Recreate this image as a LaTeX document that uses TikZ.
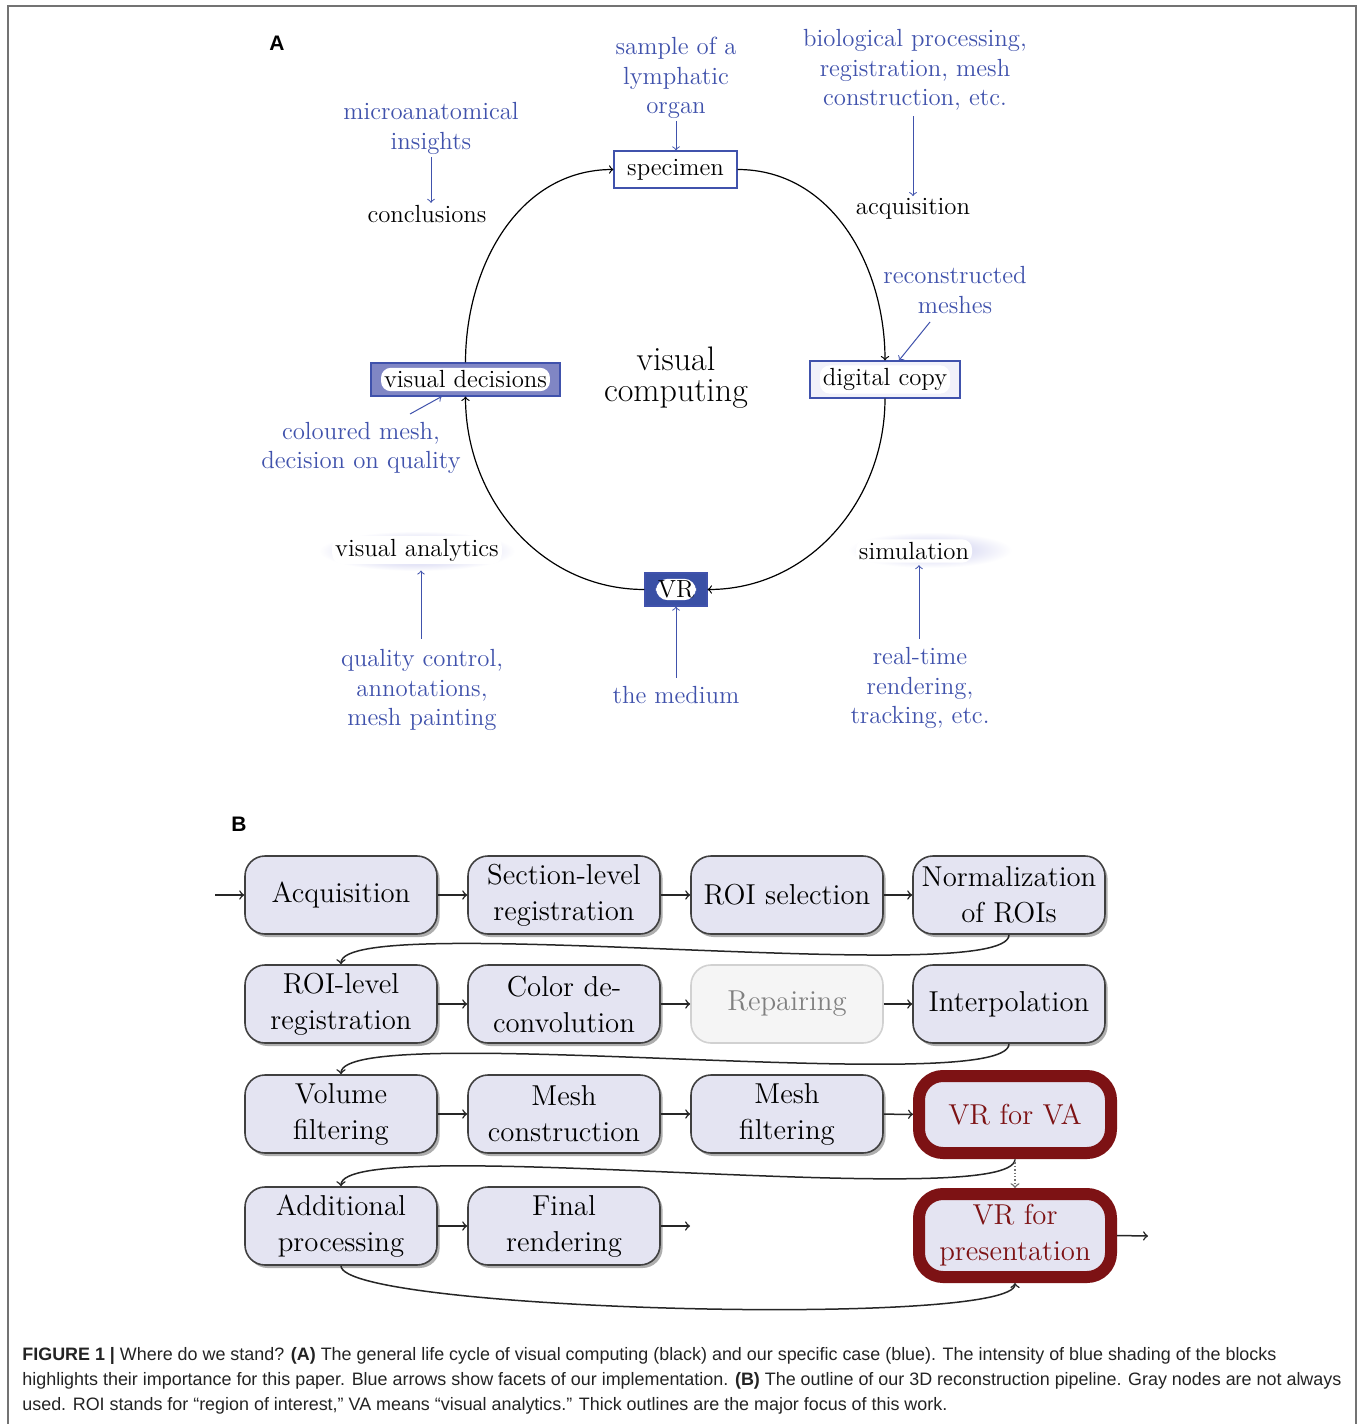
\documentclass[tikz,border=0pt]{standalone}
\usepackage{fontspec}
\usepackage{graphicx}
\newfontfamily\capfont{Liberation Sans}
\usetikzlibrary{shadows,calc}
\definecolor{bl}{RGB}{64,82,172}
\definecolor{vdfill}{RGB}{128,134,196}
\definecolor{vrfill}{RGB}{58,80,165}
\definecolor{digfill}{RGB}{241,241,250}
\definecolor{boxfill}{RGB}{228,228,242}
\definecolor{dred}{RGB}{125,18,20}
\definecolor{glow}{RGB}{170,172,228}
\definecolor{capcol}{RGB}{35,35,35}
\begin{document}
\begin{tikzpicture}[x=0.5pt,y=-0.5pt,
  lbl/.style={text=bl, align=center, font=\fontsize{12.4}{14.8}\selectfont, inner sep=1pt},
  blk/.style={align=center, font=\fontsize{12.4}{14.8}\selectfont, inner sep=1pt},
  barrow/.style={->, draw=bl, line width=0.5pt},
  cyc/.style={->, line width=0.6pt},
  abox/.style={draw=bl, line width=0.6pt, inner sep=0pt},
  cloud/.style={fill=white, rounded corners=5pt, inner sep=1.5pt, font=\fontsize{12.4}{14.8}\selectfont},
  pbox/.style={draw=black!75, line width=0.8pt, fill=boxfill, rounded corners=10pt,
     minimum width=96pt, minimum height=39pt, align=center, inner sep=2pt,
     font=\fontsize{14.4}{18}\selectfont,
     drop shadow={shadow xshift=1.3pt, shadow yshift=-1.5pt, opacity=0.45, fill=black!70}},
  graybox/.style={draw=black!18, line width=0.8pt, fill=black!4, rounded corners=10pt,
     minimum width=96pt, minimum height=39pt, align=center, inner sep=2pt, text=black!50,
     font=\fontsize{14.4}{18}\selectfont},
  redbox/.style={draw=dred, line width=6pt, fill=boxfill, rounded corners=12pt,
     minimum width=96pt, align=center, inner sep=2pt, text=dred,
     font=\fontsize{14.4}{18}\selectfont},
  parr/.style={->, line width=0.75pt, draw=black!85},
  capt/.style={anchor=base west, inner sep=0pt, text=capcol, font=\capfont\fontsize{9}{11}\selectfont},
  panel/.style={font=\capfont\bfseries\fontsize{10.5}{12}\selectfont, inner sep=0pt}
]
\useasboundingbox (0,0) rectangle (1360,1424);
\fill[white] (0,0) rectangle (1360,1424);
\draw[black!55, line width=0.6pt] (8,1424) -- (8,6) -- (1356,6) -- (1356,1424);

% ---------------- Panel A ----------------
\node[panel] (labA) at (277,43) {A};

% glows
\shade[inner color=glow, outer color=white] (417,551) ellipse [x radius=98, y radius=20];
\shade[inner color=glow!70!white, outer color=white] (930,550) ellipse [x radius=82, y radius=18];

% cycle nodes
\node[abox, fill=white, minimum width=61.5pt, minimum height=18.5pt, font=\fontsize{12.4}{14.8}\selectfont] (spec) at (675.5,169.5) {specimen};
\node[abox, fill=digfill, minimum width=75pt, minimum height=18.5pt] (dig) at (885,379.5) {};
\node[cloud] (digt) at (dig.center) {digital copy};
\node[abox, fill=vdfill, minimum width=94.5pt, minimum height=16.5pt] (vd) at (465.5,379.5) {};
\node[cloud] (vdt) at (vd.center) {visual decisions};
\node[abox, fill=vrfill, minimum width=31pt, minimum height=16.5pt] (vr) at (676,589.5) {};
\node[cloud, rounded corners=6pt, inner sep=1pt] (vrt) at (vr.center) {VR};

\node[align=center, font=\fontsize{17}{15.5}\selectfont, inner sep=0pt] (vc) at (676,378) {visual\\computing};

% cycle arcs
\draw[cyc] (spec.east) to[out=0,in=90] (dig.north);
\draw[cyc] (dig.south) to[out=-90,in=0] (vr.east);
\draw[cyc] (vr.west) to[out=180,in=-90] (vd.south);
\draw[cyc] (vd.north) to[out=90,in=180] (spec.west);

% black side nodes
\node[blk] (concl) at (427,214) {conclusions};
\node[blk] (acqt) at (913,209) {acquisition};
\node[cloud] (va) at (417,550) {visual analytics};
\node[cloud] (sim) at (914,551) {simulation};

% blue labels
\node[lbl] (samp) at (676,78) {sample of a\\lymphatic\\organ};
\node[lbl] (bio) at (915,70) {biological processing,\\registration, mesh\\construction, etc.};
\node[lbl] (micro) at (431,128.5) {microanatomical\\insights};
\node[lbl] (recon) at (955,290) {reconstructed\\meshes};
\node[lbl] (colm) at (361,448) {coloured mesh,\\decision on quality};
\node[lbl] (qc) at (422,690) {quality control,\\annotations,\\mesh painting};
\node[lbl] (med) at (676,695) {the medium};
\node[lbl] (rt) at (920,688) {real-time\\rendering,\\tracking, etc.};

\coordinate (recA) at (930,322);
\coordinate (colA) at (410,414);

\draw[barrow] (samp.south) -- (samp.south |- spec.north);
\draw[barrow] (bio.south) ++(-2,3) -- (acqt.north);
\draw[barrow] (micro.south) -- (micro.south |- concl.north);
\draw[barrow] (recA) -- ($(dig.north)+(14,0)$);
\draw[barrow] (colA) -- ($(vd.south)+(-24,0)$);
\draw[barrow] (qc.north) ++(-1,-8) -- ($(va.south)+(4,6)$);
\draw[barrow] (med.north) ++(0,-6) -- (vr.south);
\draw[barrow] (rt.north) ++(-1,-6) -- ($(sim.south)+(5,2)$);

% ---------------- Panel B ----------------
\node[panel] (labB) at (239,824) {B};

\node[pbox] (acq) at (341,895) {Acquisition};
\node[pbox] (sec) at (564,895) {Section-level\\registration};
\node[pbox] (roisel) at (787,895) {ROI selection};
\node[pbox] (norm) at (1009,895) {Normalization\\of ROIs};

\node[pbox] (roil) at (341,1004) {ROI-level\\registration};
\node[pbox] (color) at (564,1004) {Color de-\\convolution};
\node[graybox] (rep) at (787,1004) {Repairing};
\node[pbox] (interp) at (1009,1004) {Interpolation};

\node[pbox] (volf) at (341,1114) {Volume\\filtering};
\node[pbox] (meshc) at (564,1114) {Mesh\\construction};
\node[pbox] (meshf) at (787,1114) {Mesh\\filtering};
\node[redbox, minimum height=38.5pt] (vrva) at (1015,1114.5) {VR for VA};

\node[pbox] (addp) at (341,1226) {Additional\\processing};
\node[pbox] (finr) at (564,1226) {Final\\rendering};
\node[redbox, minimum height=41.5pt] (vrp) at (1015,1235.5) {VR for\\presentation};

\coordinate (in0) at (215,895);
\coordinate (fout) at (690,1226);
\coordinate (vout) at (1148,1236);

\draw[parr] (in0) -- (acq);
\draw[parr] (acq) -- (sec);
\draw[parr] (sec) -- (roisel);
\draw[parr] (roisel) -- (norm);
\draw[parr] (roil) -- (color);
\draw[parr] (color) -- (rep);
\draw[parr] (rep) -- (interp);
\draw[parr] (volf) -- (meshc);
\draw[parr] (meshc) -- (meshf);
\draw[parr] (meshf) -- (vrva);
\draw[parr] (addp) -- (finr);
\draw[parr] (finr.east) -- (fout);
\draw[parr] (vrp.east) -- (vout);

\draw[parr] (norm.south) .. controls +(0,55) and +(0,-55) .. (roil.north);
\draw[parr] (interp.south) .. controls +(0,55) and +(0,-55) .. (volf.north);
\draw[parr] (vrva.south) .. controls +(0,55) and +(0,-55) .. (addp.north);
\draw[parr] (addp.south) .. controls +(0,45) and +(0,45) .. (vrp.south);
\draw[->, densely dotted, draw=black!55, line width=0.7pt] (vrva.south) -- (vrp.north);

% ---------------- Caption ----------------
\node[capt] (cap1) at (22,1360) {\resizebox{627pt}{\height}{\textbf{FIGURE 1 |} Where do we stand? \textbf{(A)} The general life cycle of visual computing (black) and our specific case (blue). The intensity of blue shading of the blocks}};
\node[capt] (cap2) at (22,1385) {\resizebox{659.5pt}{\height}{highlights their importance for this paper. Blue arrows show facets of our implementation. \textbf{(B)} The outline of our 3D reconstruction pipeline. Gray nodes are not always}};
\node[capt] (cap3) at (22,1410) {\resizebox{462.5pt}{\height}{used. ROI stands for “region of interest,” VA means “visual analytics.” Thick outlines are the major focus of this work.}};
\end{tikzpicture}
\end{document}
